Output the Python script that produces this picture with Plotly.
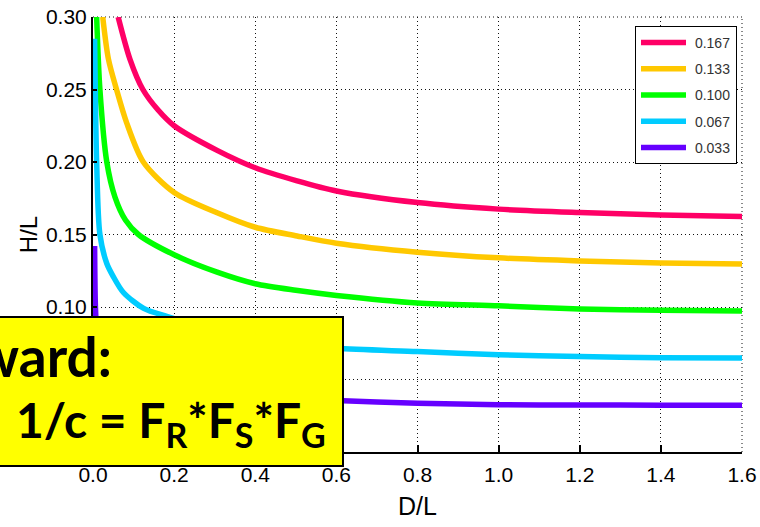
import plotly.graph_objects as go

# ---- data ----
labels = ["0.167", "0.133", "0.100", "0.067", "0.033"]
colors = ["#FF0066", "#FFC800", "#00FF00", "#00CCFF", "#6600FF"]

x_167 = [0.062, 0.091, 0.123, 0.160, 0.2, 0.306, 0.4, 0.503, 0.6, 0.8, 1.0, 1.2, 1.4, 1.6]
y_167 = [0.300, 0.271, 0.250, 0.236, 0.225, 0.208, 0.196, 0.187, 0.180, 0.172, 0.1675, 0.1652, 0.1635, 0.1624]

x_133 = [0.024, 0.038, 0.058, 0.083, 0.124, 0.2, 0.306, 0.4, 0.503, 0.6, 0.8, 1.0, 1.2, 1.4, 1.6]
y_133 = [0.300, 0.271, 0.250, 0.227, 0.200, 0.179, 0.165, 0.155, 0.149, 0.1440, 0.1378, 0.1339, 0.1318, 0.1304, 0.1297]

x_100 = [0.009, 0.017, 0.034, 0.054, 0.08, 0.112, 0.2, 0.306, 0.4, 0.5, 0.6, 0.8, 1.0, 1.2, 1.4, 1.6]
y_100 = [0.300, 0.250, 0.200, 0.176, 0.160, 0.150, 0.136, 0.124, 0.116, 0.1115, 0.108, 0.1028, 0.1008, 0.0986, 0.0977, 0.0972]

x_067 = [0.004, 0.009, 0.017, 0.034, 0.050, 0.075, 0.125, 0.182, 0.3, 0.4, 0.5, 0.6, 0.8, 1.0, 1.2, 1.4, 1.6]
y_067 = [0.285, 0.200, 0.150, 0.130, 0.121, 0.110, 0.099, 0.0935, 0.084, 0.079, 0.0745, 0.0715, 0.0693, 0.0670, 0.0659, 0.0650, 0.0648]

x_033 = [0.004, 0.006, 0.010, 0.020, 0.050, 0.100, 0.200, 0.400, 0.600, 0.800, 1.000, 1.200, 1.400, 1.600]
y_033 = [0.142, 0.100, 0.080, 0.062, 0.049, 0.044, 0.040, 0.0375, 0.0355, 0.0337, 0.0326, 0.0324, 0.0323, 0.0323]

series_x = [x_167, x_133, x_100, x_067, x_033]
series_y = [y_167, y_133, y_100, y_067, y_033]

x_ticks = [0.0, 0.2, 0.4, 0.6, 0.8, 1.0, 1.2, 1.4, 1.6]
y_ticks = [0.00, 0.05, 0.10, 0.15, 0.20, 0.25, 0.30]

AXFONT = "Liberation Sans, Arial, sans-serif"

fig = go.Figure()
for xs, ys, lab, col in zip(series_x, series_y, labels, colors):
    fig.add_trace(go.Scatter(
        x=xs, y=ys, mode="lines", name="&nbsp;" + lab, legendgroup=lab,
        line=dict(color=col, width=5.5, shape="spline", smoothing=0.8),
        cliponaxis=True,
    ))

L, R, T, B = 93, 18, 17, 75
W, H = 760, 527
pw, ph = W - L - R, H - T - B

def px_x(p):
    return (p - L) / pw

def px_y(p):
    return (H - B - p) / ph

grid = dict(showgrid=True, gridcolor="#111", gridwidth=1, griddash="1px,3px")

fig.update_layout(
    width=W, height=H,
    margin=dict(l=L, r=R, t=T, b=B, autoexpand=False),
    paper_bgcolor="white", plot_bgcolor="white",
    font=dict(family=AXFONT, color="black", size=21),
    showlegend=True,
    legend=dict(
        x=px_x(635), y=px_y(26), xanchor="left", yanchor="top",
        bgcolor="white", bordercolor="black", borderwidth=1,
        font=dict(family=AXFONT, size=14, color="#333"),
        traceorder="grouped", tracegroupgap=5, itemwidth=45,
    ),
    xaxis=dict(
        range=[0, 1.6], tickvals=x_ticks, ticktext=[f"{v:.1f}" for v in x_ticks],
        ticks="inside", ticklen=7, tickwidth=1.5, tickcolor="black",
        showline=True, linecolor="black", linewidth=2, mirror=False,
        zeroline=False, tickfont=dict(size=21), ticklabelstandoff=3,
        automargin=False,
        title=dict(text="D/L", font=dict(size=25), standoff=12),
        **grid,
    ),
    yaxis=dict(
        range=[0, 0.30], tickvals=y_ticks, ticktext=[f"{v:.2f}" for v in y_ticks],
        ticks="inside", ticklen=4, tickwidth=1.5, tickcolor="black",
        showline=True, linecolor="black", linewidth=2, mirror=False,
        zeroline=False, tickfont=dict(size=21), automargin=False,
        title=dict(text="H/L", font=dict(size=24), standoff=2),
        **grid,
    ),
)

# dotted frame lines on the open top and right edges
fig.add_shape(type="line", xref="paper", yref="paper", x0=0, x1=1, y0=1, y1=1,
              line=dict(color="#111", width=1, dash="1px,3px"), layer="below")
fig.add_shape(type="line", xref="paper", yref="paper", x0=1, x1=1, y0=0, y1=1,
              line=dict(color="#111", width=1, dash="1px,3px"), layer="below")

# yellow callout box
fig.add_shape(
    type="rect", xref="paper", yref="paper",
    x0=px_x(-4), x1=px_x(343), y0=px_y(466), y1=px_y(317),
    fillcolor="#FFFF00", line=dict(color="black", width=2), layer="above",
)

BOX_FONT = "Lato, Open Sans, sans-serif"
fig.add_annotation(
    xref="paper", yref="paper", x=px_x(114), y=px_y(356),
    xanchor="right", yanchor="middle", showarrow=False,
    text="<b>ward:</b>", font=dict(family=BOX_FONT, size=55, color="black"),
)
sub = '<sub><span style="font-size:34px">{}</span></sub>'
fig.add_annotation(
    xref="paper", yref="paper", x=px_x(14), y=px_y(423),
    xanchor="left", yanchor="middle", showarrow=False,
    text="<b>1/c = F" + sub.format("R") + "*F" + sub.format("S") + "*F" + sub.format("G") + "</b>",
    font=dict(family=BOX_FONT, size=48, color="black"),
)

fig.write_html("out.html")
